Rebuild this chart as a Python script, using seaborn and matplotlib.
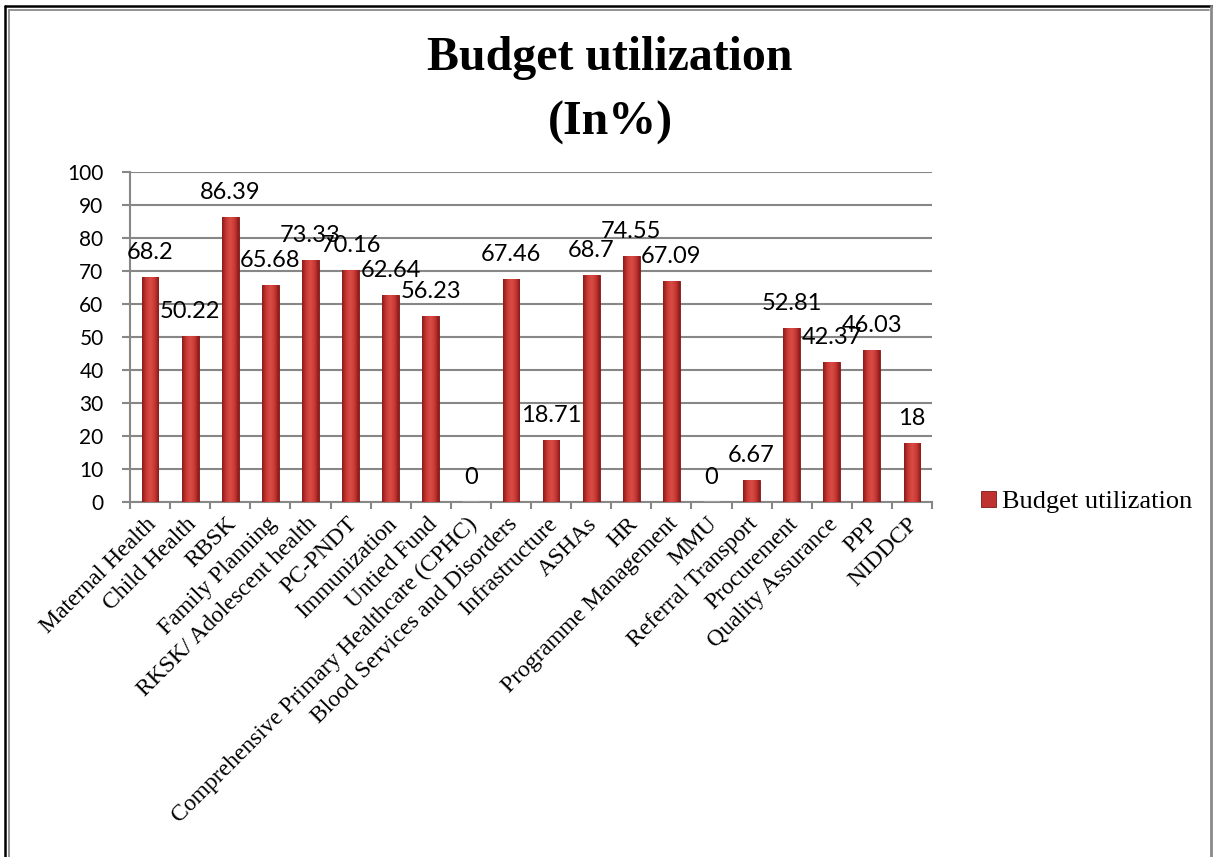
import numpy as np
import pandas as pd
import matplotlib
matplotlib.use("Agg")
import matplotlib.pyplot as plt
import seaborn as sns
from matplotlib.patches import Patch
from matplotlib.lines import Line2D
from matplotlib.colors import LinearSegmentedColormap
import matplotlib.transforms as mtransforms

categories = [
    "Maternal Health", "Child Health", "RBSK", "Family Planning",
    "RKSK/ Adolescent health", "PC-PNDT", "Immunization", "Untied Fund",
    "Comprehensive Primary Healthcare (CPHC)", "Blood Services and Disorders",
    "Infrastructure", "ASHAs", "HR", "Programme Management", "MMU",
    "Referral Transport", "Procurement", "Quality Assurance", "PPP", "NIDDCP",
]
values = [68.2, 50.22, 86.39, 65.68, 73.33, 70.16, 62.64, 56.23, 0, 67.46,
          18.71, 68.7, 74.55, 67.09, 0, 6.67, 52.81, 42.37, 46.03, 18]
value_labels = ["68.2", "50.22", "86.39", "65.68", "73.33", "70.16", "62.64",
                "56.23", "0", "67.46", "18.71", "68.7", "74.55", "67.09", "0",
                "6.67", "52.81", "42.37", "46.03", "18"]
series_name = "Budget utilization"
title_lines = ["Budget utilization", "(In%)"]
yticks = list(range(0, 101, 10))

df = pd.DataFrame({"category": categories, "value": values})

sns.set_theme(style="white")
plt.rcParams["font.family"] = ["Lato", "DejaVu Sans"]
plt.rcParams["text.color"] = "black"
plt.rcParams["xtick.color"] = "black"
plt.rcParams["ytick.color"] = "black"

W, H = 1213, 857
fig = plt.figure(figsize=(W / 100, H / 100), dpi=100)
ax = fig.add_axes([130 / W, 1 - 502 / H, (932 - 130) / W, (502 - 172) / H])

bar_color = "#BE332F"
sns.barplot(data=df, x="category", y="value", color=bar_color, width=0.42,
            saturation=1, ax=ax, zorder=3)

# gradient fill on bars
cmap = LinearSegmentedColormap.from_list(
    "bar", ["#8A1A18", "#C83935", "#DA4C46", "#C83935", "#8A1A18"])
grad = np.linspace(0, 1, 64).reshape(1, -1)
for p in ax.patches:
    x0, y0 = p.get_x(), p.get_y()
    w, h = p.get_width(), p.get_height()
    if h <= 0:
        continue
    p.set_edgecolor("#7A1614")
    p.set_linewidth(0.6)
    im = ax.imshow(grad, cmap=cmap, extent=[x0, x0 + w, y0, y0 + h],
                   aspect="auto", zorder=3.5, interpolation="bicubic")
    im.set_clip_path(p)

ax.set_xlim(-0.5, len(categories) - 0.5)
ax.set_ylim(0, 100)
ax.set_yticks(yticks)
ax.set_xlabel("")
ax.set_ylabel("")

grid_c = "#878787"
ax.yaxis.grid(True, color=grid_c, linewidth=1.5, zorder=0)
ax.xaxis.grid(False)
for s in ["top", "right"]:
    ax.spines[s].set_visible(False)
for s in ["left", "bottom"]:
    ax.spines[s].set_color(grid_c)
    ax.spines[s].set_linewidth(1.5)

ax.tick_params(axis="y", which="major", left=True, length=6, width=1.5,
               color=grid_c, pad=13, labelsize=15, labelcolor="black")
ax.tick_params(axis="x", which="major", bottom=False, length=0, pad=10,
               labelcolor="black")
ax.set_xticks(np.arange(-0.5, len(categories), 1), minor=True)
ax.tick_params(axis="x", which="minor", bottom=True, length=5, width=1.5,
               color=grid_c)

offset = mtransforms.ScaledTranslation(3 / 100, -5 / 100, fig.dpi_scale_trans)
for lab in ax.get_xticklabels():
    lab.set_rotation(45)
    lab.set_ha("right")
    lab.set_va("center")
    lab.set_rotation_mode("anchor")
    lab.set_fontfamily(["Liberation Serif", "DejaVu Serif"])
    lab.set_fontsize(17)
    lab.set_transform(lab.get_transform() + offset)

for i, (v, t) in enumerate(zip(values, value_labels)):
    ax.annotate(t, xy=(i, v), xytext=(0, 13), textcoords="offset points",
                ha="center", va="baseline", fontsize=17, color="black",
                zorder=5, annotation_clip=False)

# title
for txt, yb in zip(title_lines, [70, 135]):
    fig.text(610 / W, 1 - yb / H, txt, ha="center", va="baseline",
             fontsize=34.5, fontweight="bold", color="black",
             fontfamily=["Liberation Serif", "DejaVu Serif"])

# legend
handle = Patch(facecolor=bar_color, edgecolor="#7A1614", linewidth=0.6)
fig.legend([handle], [series_name], loc="center left",
           bbox_to_anchor=(968 / W, 1 - 502 / H), frameon=False,
           handlelength=0.55, handleheight=0.55, handletextpad=0.25,
           borderpad=0, labelcolor="black",
           prop={"family": "Liberation Serif", "size": 19})

# frame border
def fline(xs, ys, c, lw):
    fig.add_artist(Line2D([x / W for x in xs], [1 - y / H for y in ys],
                          color=c, linewidth=lw, transform=fig.transFigure))

fline([5, 5], [6, H], "black", 1.8)
fline([5, 1212], [6, 6], "black", 1.8)
fline([8.5, 8.5], [9.5, H], "#8A8A8A", 1.3)
fline([8.5, 1209], [9.5, 9.5], "#8A8A8A", 1.3)
fline([1210.5, 1210.5], [6, H], "#8A8A8A", 2.0)

fig.savefig("out.png", dpi=100)
